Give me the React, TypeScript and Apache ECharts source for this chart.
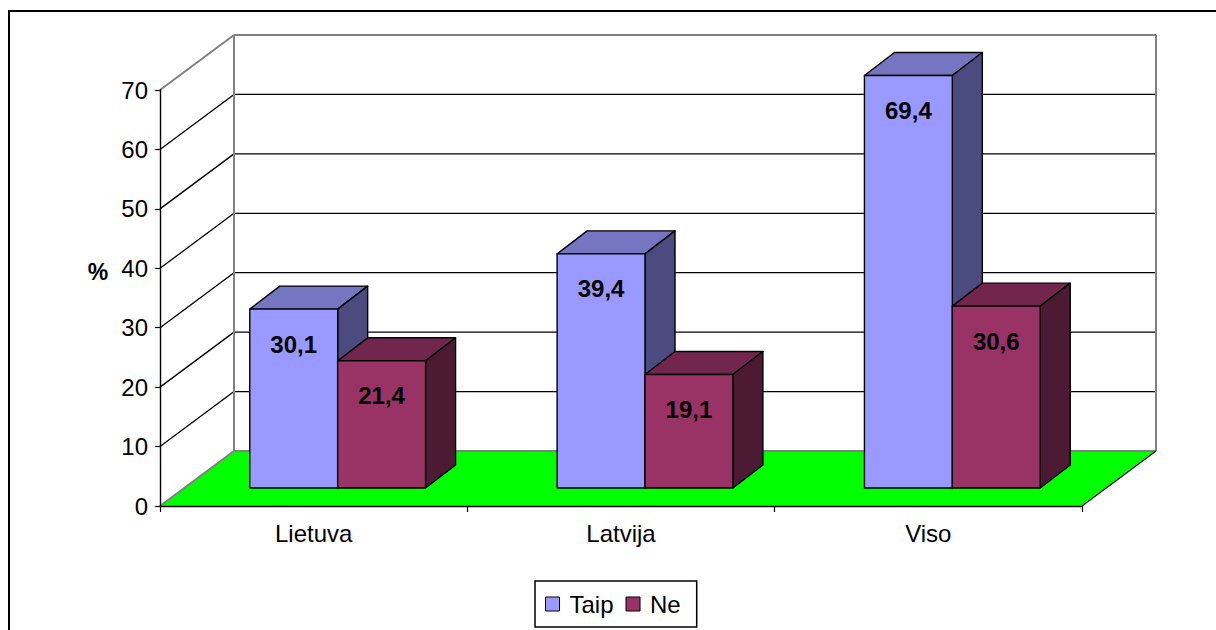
import React, { useEffect, useRef } from "react";
import * as echarts from "echarts";

const categories = ["Lietuva", "Latvija", "Viso"];
const seriesNames = ["Taip", "Ne"];
const taipValues = [30.1, 39.4, 69.4];
const neValues = [21.4, 19.1, 30.6];
const yTicks = [0, 10, 20, 30, 40, 50, 60, 70];
const yAxisTitle = "%";

const FONT = 'Arial, "Liberation Sans", sans-serif';
const WALL_DEPTH = [74, -55];
const BAR_FRONT = [24, -18];
const BAR_DEPTH = [30, -23];

const palettes = [
  { front: "#9999FF", top: "#7575C2", side: "#4B4B80" },
  { front: "#993366", top: "#73264D", side: "#4D1A33" },
];

function makeBarRender(sIdx: number) {
  const pal = palettes[sIdx];
  return (params: any, api: any) => {
    const i = api.value(0);
    const v = api.value(1);
    const base = api.coord([i, 0]);
    const topPt = api.coord([i, v]);
    const catW = api.size([1, 0])[0];
    const bw = catW * 0.286;
    const x0 = base[0] + BAR_FRONT[0] + (sIdx === 0 ? -bw : 0);
    const x1 = x0 + bw;
    const yb = base[1] + BAR_FRONT[1];
    const yt = topPt[1] + BAR_FRONT[1];
    const dx = BAR_DEPTH[0];
    const dy = BAR_DEPTH[1];
    const edge = { stroke: "#000", lineWidth: 1.4, lineJoin: "round" };
    return {
      type: "group",
      children: [
        {
          type: "polygon",
          shape: { points: [[x0, yt], [x1, yt], [x1 + dx, yt + dy], [x0 + dx, yt + dy]] },
          style: { fill: pal.top, ...edge },
        },
        {
          type: "polygon",
          shape: { points: [[x1, yt], [x1 + dx, yt + dy], [x1 + dx, yb + dy], [x1, yb]] },
          style: { fill: pal.side, ...edge },
        },
        {
          type: "rect",
          shape: { x: x0, y: yt, width: bw, height: yb - yt },
          style: { fill: pal.front, ...edge },
        },
        {
          type: "text",
          x: (x0 + x1) / 2,
          y: yt + 35,
          style: {
            text: v.toFixed(1).replace(".", ","),
            font: `bold 24px ${FONT}`,
            fill: "#000",
            align: "center",
            verticalAlign: "middle",
          },
        },
      ],
    };
  };
}

function renderWalls(params: any, api: any) {
  const cs = params.coordSys;
  const L = cs.x;
  const R = cs.x + cs.width;
  const [dx, dy] = WALL_DEPTH;
  const yMin = yTicks[0];
  const yMax = yTicks[yTicks.length - 1];
  const y0 = api.coord([0, yMin])[1];
  const yT = api.coord([0, yMax])[1];
  const gray = { stroke: "#808080", lineWidth: 2 };
  const black = { stroke: "#000", lineWidth: 1.3 };
  const children: any[] = [
    {
      type: "polygon",
      shape: { points: [[L, y0], [L + dx, y0 + dy], [R + dx, y0 + dy], [R, y0]] },
      style: { fill: "#00FF00" },
    },
  ];
  yTicks.forEach((v) => {
    if (v === yMin || v === yMax) return;
    const y = api.coord([0, v])[1];
    children.push({ type: "line", shape: { x1: L + dx, y1: y + dy, x2: R + dx, y2: y + dy }, style: black });
    children.push({ type: "line", shape: { x1: L, y1: y, x2: L + dx, y2: y + dy }, style: black });
  });
  children.push({ type: "line", shape: { x1: L, y1: yT, x2: L + dx, y2: yT + dy }, style: gray });
  children.push({ type: "line", shape: { x1: L + dx, y1: yT + dy, x2: R + dx, y2: yT + dy }, style: gray });
  children.push({ type: "line", shape: { x1: L + dx, y1: yT + dy, x2: L + dx, y2: y0 + dy }, style: gray });
  children.push({ type: "line", shape: { x1: R + dx, y1: yT + dy, x2: R + dx, y2: y0 + dy }, style: gray });
  children.push({ type: "line", shape: { x1: L, y1: y0, x2: L + dx, y2: y0 + dy }, style: gray });
  children.push({ type: "line", shape: { x1: L + dx, y1: y0 + dy, x2: R + dx, y2: y0 + dy }, style: gray });
  children.push({ type: "line", shape: { x1: R, y1: y0, x2: R + dx, y2: y0 + dy }, style: black });
  return { type: "group", children };
}

export default function App() {
  const ref = useRef<HTMLDivElement>(null);
  useEffect(() => {
    document.body.style.margin = "0";
    if (!ref.current) return;
    const chart = echarts.init(ref.current, undefined, { renderer: "svg" });
    const seriesValues = [taipValues, neValues];
    chart.setOption({
      animation: false,
      backgroundColor: "#fff",
      grid: { left: 160, right: 134, top: 90, bottom: 124, containLabel: false },
      xAxis: {
        type: "category",
        data: categories,
        z: 10,
        axisLine: { lineStyle: { color: "#000", width: 1.4 } },
        axisTick: { show: true, length: 6, lineStyle: { color: "#000", width: 1.2 } },
        axisLabel: { color: "#000", fontSize: 24, fontFamily: FONT, margin: 15 },
        splitLine: { show: false },
      },
      yAxis: {
        type: "value",
        min: yTicks[0],
        max: yTicks[yTicks.length - 1],
        interval: 10,
        z: 10,
        axisLine: { show: true, lineStyle: { color: "#000", width: 1.4 } },
        axisTick: { show: true, length: 5, lineStyle: { color: "#000", width: 1.2 } },
        axisLabel: { color: "#000", fontSize: 24, fontFamily: FONT, margin: 12 },
        splitLine: { show: false },
      },
      legend: {
        data: seriesNames,
        left: 535,
        top: 581,
        orient: "horizontal",
        icon: "rect",
        itemWidth: 14,
        itemHeight: 14,
        itemGap: 12,
        padding: [11, 16, 11, 10],
        borderColor: "#000",
        borderWidth: 1.5,
        selectedMode: false,
        itemStyle: { borderColor: "#000", borderWidth: 1 },
        textStyle: { color: "#000", fontSize: 24, fontFamily: FONT, padding: [0, 0, 0, 5] },
      },
      graphic: [
        {
          type: "rect",
          shape: { x: 9, y: 11, width: 1400, height: 900 },
          style: { fill: "none", stroke: "#000", lineWidth: 2 },
          silent: true,
        },
        {
          type: "text",
          x: 98,
          y: 272,
          style: {
            text: yAxisTitle,
            font: `bold 23px ${FONT}`,
            fill: "#000",
            align: "center",
            verticalAlign: "middle",
          },
        },
      ],
      series: [
        {
          type: "custom",
          name: "walls",
          z: 1,
          silent: true,
          renderItem: renderWalls,
          data: [[0, 0]],
          encode: { x: 0, y: 1 },
        },
        ...seriesNames.map((name, s) => ({
          type: "custom",
          name,
          z: 2 + s,
          itemStyle: { color: palettes[s].front },
          renderItem: makeBarRender(s),
          data: seriesValues[s].map((v, i) => [i, v]),
          encode: { x: 0, y: 1 },
        })),
      ],
    });
    return () => chart.dispose();
  }, []);
  return <div ref={ref} style={{ width: 1216, height: 630 }} />;
}
